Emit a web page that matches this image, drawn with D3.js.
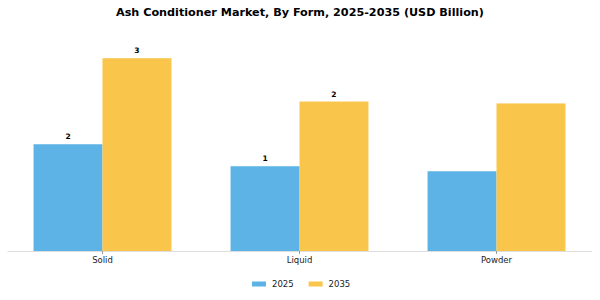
<!DOCTYPE html>
<html>
<head>
<meta charset="utf-8">
<script src="https://cdn.jsdelivr.net/npm/d3@7"></script>
<style>
  body { margin: 0; background: #fff; }
  svg { font-family: "DejaVu Sans", sans-serif; display: block; }
</style>
</head>
<body>
<div class="chart"></div>
<script>
// chart data
const categories = ["Solid", "Liquid", "Powder"];
const years = ["2025", "2035"];
const values2025 = [1.7, 1.35, 1.27];
const values2035 = [3.07, 2.38, 2.35];
const labels2025 = ["2", "1", ""];
const labels2035 = ["3", "2", ""];
const colors = ["#5DB3E6", "#F9C54B"];

const W = 600, H = 300;
const baseY = 251, topY = 40;

const svg = d3.select(".chart")
  .append("svg")
  .attr("width", W)
  .attr("height", H);

// title
svg.append("text")
  .attr("x", W / 2)
  .attr("y", 16)
  .attr("text-anchor", "middle")
  .style("font-size", "11.2px")
  .style("font-weight", "bold")
  .text("Ash Conditioner Market, By Form, 2025-2035 (USD Billion)");

// scales
const x = d3.scaleBand()
  .domain(categories)
  .range([4, 595])
  .paddingInner(0.3)
  .paddingOuter(0.15);

const xSub = d3.scaleBand()
  .domain(years)
  .range([0, x.bandwidth()]);

const y = d3.scaleLinear()
  .domain([0, 3.36])
  .range([baseY, topY]);

// rows for bars
const rows = categories.map((c, i) => ({
  cat: c,
  bars: [
    { year: "2025", value: values2025[i], label: labels2025[i] },
    { year: "2035", value: values2035[i], label: labels2035[i] }
  ]
}));

const groups = svg.selectAll(".grp")
  .data(rows)
  .enter().append("g")
  .attr("transform", d => `translate(${x(d.cat)},0)`);

groups.selectAll("rect")
  .data(d => d.bars)
  .enter().append("rect")
  .attr("x", d => xSub(d.year))
  .attr("y", d => y(d.value))
  .attr("width", xSub.bandwidth())
  .attr("height", d => y(0) - y(d.value))
  .attr("fill", (d, i) => colors[i]);

// value labels
groups.selectAll(".lbl")
  .data(d => d.bars)
  .enter().append("text")
  .attr("x", d => xSub(d.year) + xSub.bandwidth() / 2)
  .attr("y", d => y(d.value) - 5)
  .attr("text-anchor", "middle")
  .style("font-size", "7.5px")
  .style("font-weight", "bold")
  .text(d => d.label);

// x axis
const xAxis = svg.append("g")
  .attr("transform", `translate(0,${baseY})`)
  .call(d3.axisBottom(x).tickSize(3).tickSizeOuter(0));
xAxis.select(".domain")
  .attr("d", "M7.5,0.5H592")
  .attr("stroke", "#ddd");
xAxis.selectAll(".tick line").attr("stroke", "#999");
xAxis.selectAll(".tick text")
  .attr("y", 6)
  .style("font-size", "8.5px")
  .style("font-family", "DejaVu Sans, sans-serif")
  .attr("fill", "#222");

// legend
const legend = svg.append("g")
  .attr("transform", "translate(252,284)");
const items = legend.selectAll("g")
  .data(years)
  .enter().append("g")
  .attr("transform", (d, i) => `translate(${i * 56.6},0)`);
items.append("rect")
  .attr("x", 0)
  .attr("y", -2.5)
  .attr("width", 14)
  .attr("height", 5)
  .attr("fill", (d, i) => colors[i]);
items.append("text")
  .attr("x", 20)
  .attr("y", 3)
  .style("font-size", "8.5px")
  .attr("fill", "#222")
  .text(d => d);
</script>
</body>
</html>
